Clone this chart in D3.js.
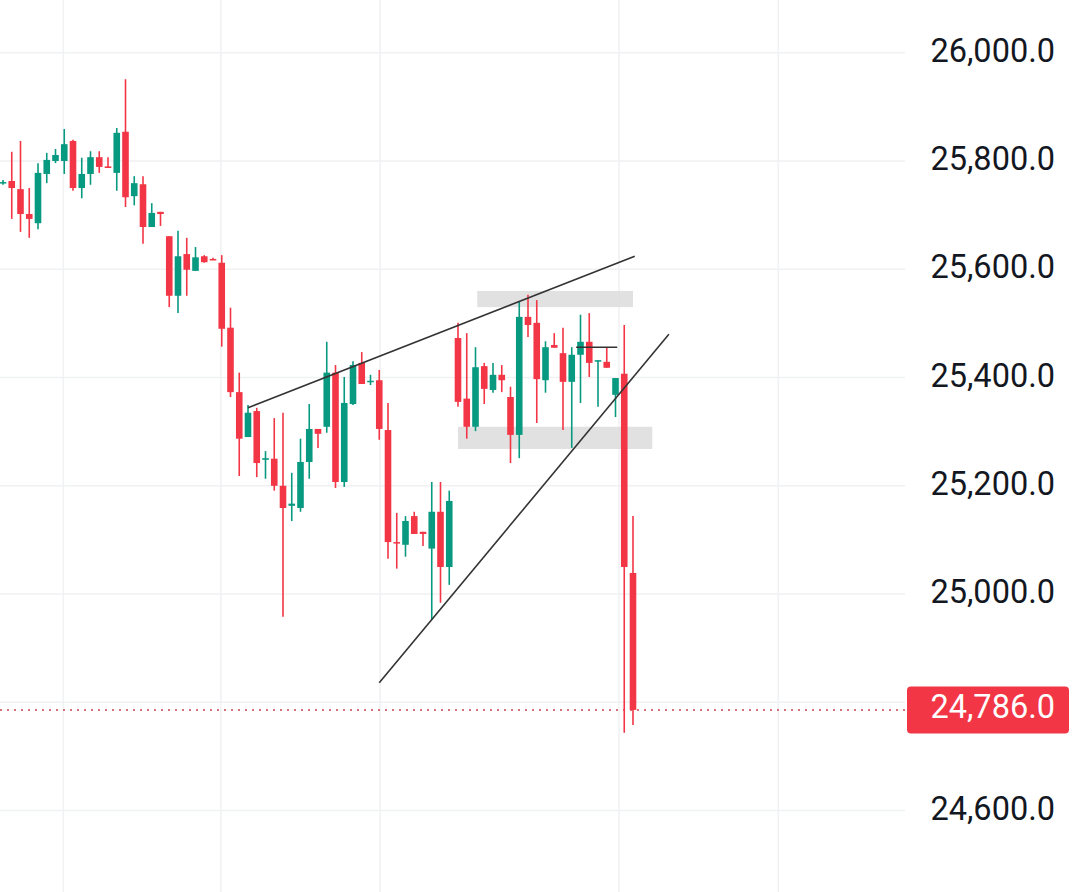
<!DOCTYPE html>
<html>
<head>
<meta charset="utf-8">
<script src="https://cdn.jsdelivr.net/npm/d3@7"></script>
<style>
  html, body { margin: 0; padding: 0; background: #fff; }
  svg { display: block; font-family: Roboto, "Noto Sans", sans-serif; }
</style>
</head>
<body>
<div id="chart"></div>
<script>
// OHLC per bar (bar index = position)
const opens  = [25759,25763,25748,25702,25685,25776,25800,25800,25837,25750,25776,25807,25790,25778,25854,25735,25757,25678,25706,25661,
                25551,25628,25597,25624,25619,25612,25492,25373,25290,25338,25248,25250,25200,25163,25159,25244,25305,25309,25409,25207,
                25351,25427,25392,25395,25303,25096,25091,25144,25115,25084,25152,25050,25473,25361,25309,25421,25377,25405,25364,25294,
                25512,25501,25395,25460,25445,25392,25442,25466,25430,25429,25368,25407,25039];
const highs  = [25765,25817,25837,25750,25796,25815,25822,25859,25839,25806,25818,25818,25807,25861,25951,25772,25772,25722,25706,25661,
                25671,25658,25641,25626,25621,25626,25529,25409,25349,25344,25264,25325,25335,25224,25287,25351,25305,25466,25423,25401,
                25430,25447,25405,25414,25353,25150,25144,25152,25115,25207,25207,25191,25501,25482,25456,25427,25427,25423,25383,25540,
                25553,25543,25467,25482,25492,25456,25516,25519,25432,25455,25399,25497,25144];
const lows   = [25756,25693,25669,25658,25674,25759,25796,25776,25745,25731,25756,25778,25787,25745,25715,25718,25647,25678,25680,25530,
                25519,25551,25597,25612,25617,25457,25364,25218,25290,25216,25213,25191,24958,25135,25152,25213,25270,25298,25196,25198,
                25349,25388,25386,25285,25065,25047,25069,25111,25089,24952,24984,25017,25346,25287,25301,25351,25372,25373,25242,25251,
                25475,25316,25372,25455,25303,25270,25353,25401,25346,25418,25327,24744,24758];
const closes = [25761,25750,25702,25693,25778,25802,25811,25831,25750,25776,25807,25789,25787,25852,25733,25759,25678,25704,25702,25551,
                25624,25599,25622,25613,25617,25490,25373,25287,25335,25242,25251,25200,25159,25167,25244,25305,25296,25409,25207,25353,
                25423,25388,25394,25305,25096,25095,25135,25111,25111,25152,25050,25172,25355,25309,25419,25379,25405,25395,25294,25512,
                25497,25397,25456,25455,25392,25442,25466,25427,25432,25418,25399,25050,24786];

const gridPrices = [24600, 24800, 25000, 25200, 25400, 25600, 25800, 26000];
// 24,800 label is covered by the last-price badge
const labelPrices = [24600, 25000, 25200, 25400, 25600, 25800, 26000];
const timeGridBars = [6.9, 24.9, 43.1, 70.4, 88.6];

// drawings on the chart (bar index, price)
const upperTrend = [[28, 25344], [72.2, 25624]];
const lowerTrend = [[43, 24836], [76.1, 25480]];
const flatLine   = [[65.5, 25456], [70.2, 25456]];
const zones = [
  { from: 54.2, to: 72.0, top: 25560, bottom: 25530 },
  { from: 52.0, to: 74.2, top: 25309, bottom: 25268 }
];

const width = 1080, height = 892;
const plotRight = 905;
const up = "#089981", down = "#f23645";

const svg = d3.select("#chart").append("svg")
  .attr("width", width).attr("height", height)
  .attr("viewBox", `0 0 ${width} ${height}`);

const x = d3.scaleLinear().domain([0, 72]).range([3, 633]);
const y = d3.scaleLinear().domain([24600, 26000]).range([810.6, 52.7]);

const bars = closes.map((c, i) => ({ i, o: opens[i], h: highs[i], l: lows[i], c }));

// grid
svg.append("g").selectAll("line")
  .data(gridPrices)
  .join("line")
  .attr("x1", 0).attr("x2", plotRight)
  .attr("y1", d => y(d)).attr("y2", d => y(d))
  .attr("stroke", "#f0f1f3").attr("stroke-width", 1.5);

svg.append("g").selectAll("line")
  .data(timeGridBars)
  .join("line")
  .attr("x1", d => x(d)).attr("x2", d => x(d))
  .attr("y1", 0).attr("y2", height)
  .attr("stroke", "#f0f1f3").attr("stroke-width", 1.5);

// shaded zones
svg.append("g").selectAll("rect")
  .data(zones)
  .join("rect")
  .attr("x", d => x(d.from))
  .attr("width", d => x(d.to) - x(d.from))
  .attr("y", d => y(d.top))
  .attr("height", d => y(d.bottom) - y(d.top))
  .attr("fill", "#dcdcdc")
  .attr("opacity", 0.85);

// last price line
const last = closes[closes.length - 1];
svg.append("line")
  .attr("x1", 0).attr("x2", plotRight)
  .attr("y1", y(last)).attr("y2", y(last))
  .attr("stroke", "#c8464e")
  .attr("stroke-width", 1.5)
  .attr("stroke-dasharray", "2,5");

// candles
const candle = svg.append("g").selectAll("g")
  .data(bars)
  .join("g");

candle.append("line")
  .attr("x1", d => x(d.i)).attr("x2", d => x(d.i))
  .attr("y1", d => y(d.h)).attr("y2", d => y(d.l))
  .attr("stroke", d => d.c >= d.o ? up : down)
  .attr("stroke-width", 1.6);

candle.append("rect")
  .attr("x", d => x(d.i) - 3.3)
  .attr("width", 6.6)
  .attr("y", d => y(Math.max(d.o, d.c)))
  .attr("height", d => Math.max(1.5, Math.abs(y(d.o) - y(d.c))))
  .attr("fill", d => d.c >= d.o ? up : down);

// trend lines
const line = d3.line().x(d => x(d[0])).y(d => y(d[1]));
[upperTrend, lowerTrend, flatLine].forEach(pts => {
  svg.append("path")
    .attr("d", line(pts))
    .attr("fill", "none")
    .attr("stroke", "#333")
    .attr("stroke-width", 1.6);
});

// price axis
const fmt = d3.format(",.1f");
svg.append("g").selectAll("text")
  .data(labelPrices)
  .join("text")
  .attr("x", 1055)
  .attr("y", d => y(d) - 2)
  .attr("text-anchor", "end")
  .attr("dominant-baseline", "central")
  .attr("font-size", "32.5px")
  .attr("fill", "#131722")
  .text(d => fmt(d));

// last price badge
svg.append("rect")
  .attr("x", 907).attr("y", y(last) - 23.5)
  .attr("width", 162).attr("height", 47)
  .attr("rx", 4)
  .attr("fill", down);

svg.append("text")
  .attr("x", 1055)
  .attr("y", y(last) - 3)
  .attr("text-anchor", "end")
  .attr("dominant-baseline", "central")
  .attr("font-size", "32.5px")
  .attr("fill", "#fff")
  .text(fmt(last));
</script>
</body>
</html>
